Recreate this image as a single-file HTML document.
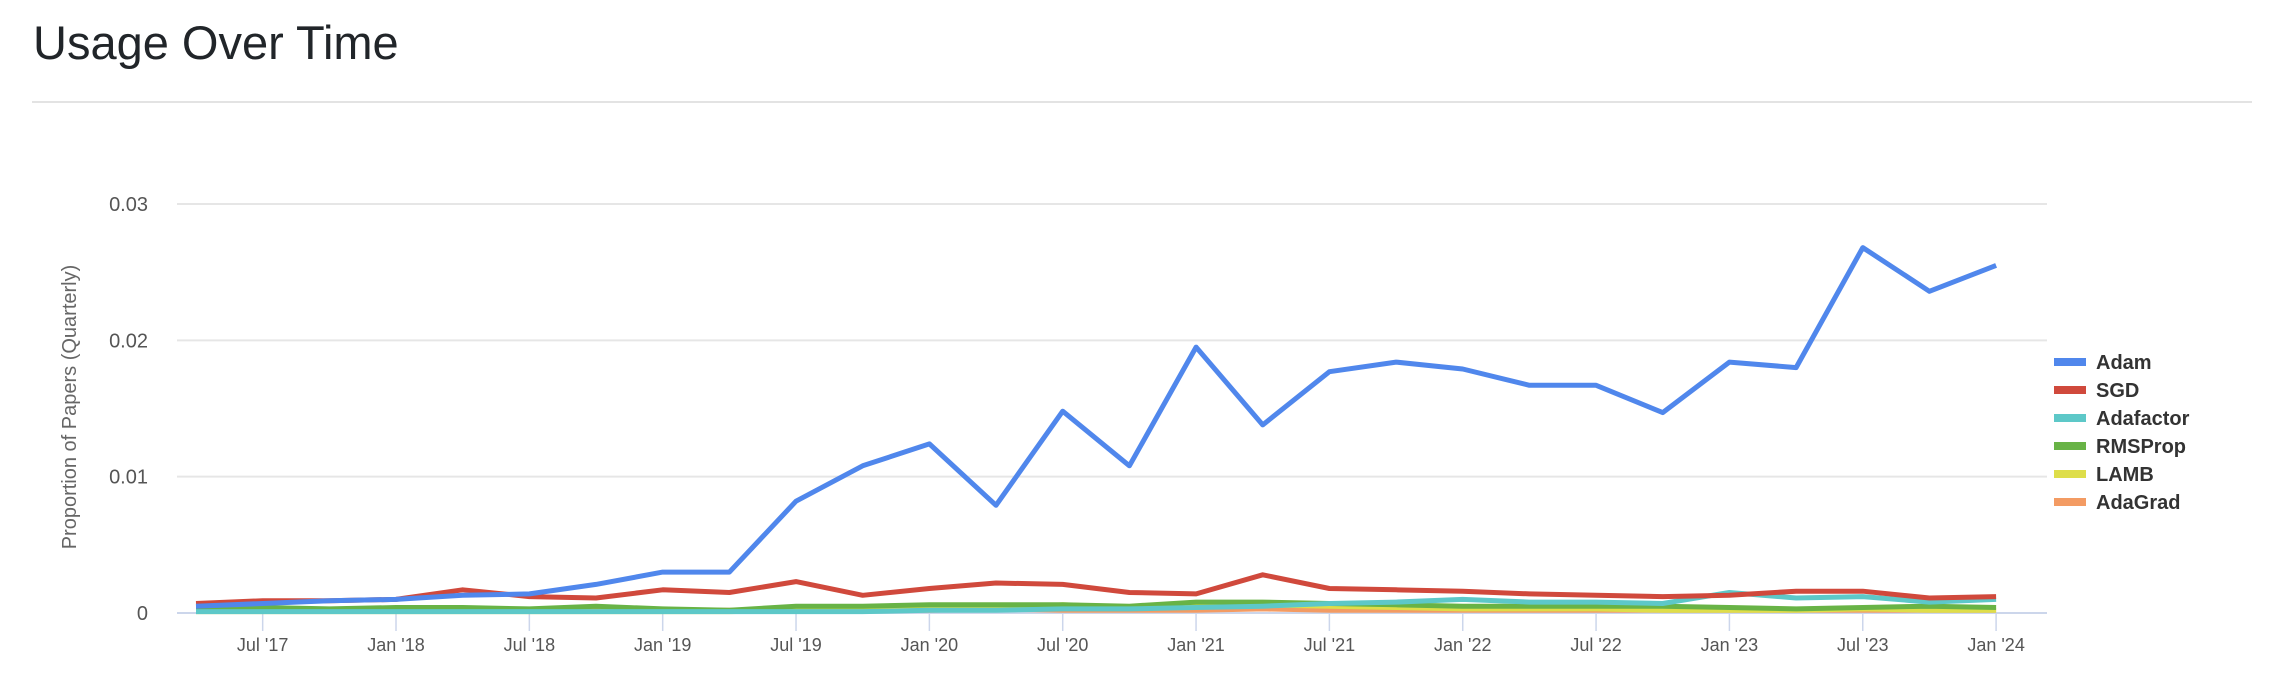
<!DOCTYPE html>
<html><head><meta charset="utf-8"><style>
html,body{margin:0;padding:0;background:#fff;width:2276px;height:692px;overflow:hidden;font-family:"Liberation Sans",sans-serif}
</style></head><body>
<svg width="2276" height="692" xmlns="http://www.w3.org/2000/svg">
<text x="33" y="59" font-size="47" fill="#212529">Usage Over Time</text>
<rect x="32" y="101" width="2220" height="2" fill="#e3e3e3"/>
<g id="grid"></g><g id="xaxis"></g><g id="series"></g><g id="legend"></g>
<text transform="translate(76,407) rotate(-90)" text-anchor="middle" font-size="20" fill="#666">Proportion of Papers (Quarterly)</text>
</svg>
<script>
const quarters = ["Apr '17","Jul '17","Oct '17","Jan '18","Apr '18","Jul '18","Oct '18","Jan '19","Apr '19","Jul '19","Oct '19","Jan '20","Apr '20","Jul '20","Oct '20","Jan '21","Apr '21","Jul '21","Oct '21","Jan '22","Apr '22","Jul '22","Oct '22","Jan '23","Apr '23","Jul '23","Oct '23","Jan '24"];
const yTicks = [0,0.01,0.02,0.03];
const yTickLabels = ["0","0.01","0.02","0.03"];
const seriesNames = ["Adam","SGD","Adafactor","RMSProp","LAMB","AdaGrad"];
const seriesColors = ["#5087ec","#d0493c","#5dc8c8","#68b346","#dede4a","#f39b63"];
const adam = [0.0005,0.0007,0.0009,0.001,0.0013,0.0014,0.0021,0.003,0.003,0.0082,0.0108,0.0124,0.0079,0.0148,0.0108,0.0195,0.0138,0.0177,0.0184,0.0179,0.0167,0.0167,0.0147,0.0184,0.018,0.0268,0.0236,0.0255];
const sgd = [0.0007,0.0009,0.0009,0.001,0.0017,0.0012,0.0011,0.0017,0.0015,0.0023,0.0013,0.0018,0.0022,0.0021,0.0015,0.0014,0.0028,0.0018,0.0017,0.0016,0.0014,0.0013,0.0012,0.0013,0.0016,0.0016,0.0011,0.0012];
const adafactor = [0.0001,0.0001,0.0001,0.0001,0.0001,0.0001,0.0001,0.0001,0.0001,0.0001,0.0001,0.0002,0.0002,0.0003,0.0003,0.0004,0.0005,0.0007,0.0008,0.001,0.0008,0.0008,0.0007,0.0015,0.0011,0.0012,0.0008,0.001];
const rmsprop = [0.0004,0.0004,0.0003,0.0004,0.0004,0.0003,0.0005,0.0003,0.0002,0.0005,0.0005,0.0006,0.0006,0.0006,0.0005,0.0008,0.0008,0.0007,0.0006,0.0005,0.0005,0.0005,0.0005,0.0004,0.0003,0.0004,0.0005,0.0004];
const lamb = [0.0001,0.0001,0.0001,0.0001,0.0001,0.0001,0.0001,0.0001,0.0001,0.0002,0.0002,0.0003,0.0003,0.0006,0.0004,0.0005,0.0006,0.0005,0.0004,0.0003,0.0003,0.0003,0.0002,0.0002,0.0002,0.0003,0.0002,0.0002];
const adagrad = [0.0002,0.0002,0.0002,0.0002,0.0002,0.0002,0.0002,0.0002,0.0002,0.0002,0.0002,0.0002,0.0003,0.0002,0.0002,0.0002,0.0003,0.0002,0.0002,0.0002,0.0002,0.0002,0.0002,0.0002,0.0002,0.0002,0.0002,0.0002];
const seriesData = [adam,sgd,adafactor,rmsprop,lamb,adagrad];
const NS="http://www.w3.org/2000/svg";
const X0=196,DX=66.67,Y0=613,YTOP=204,YMAX=0.03;
function xs(i){return X0+i*DX;}
function ys(v){return Y0-(v/YMAX)*(Y0-YTOP);}
function mk(t,a,p){const e=document.createElementNS(NS,t);for(const k in a)e.setAttribute(k,a[k]);p.appendChild(e);return e;}
const grid=document.getElementById('grid');
yTicks.forEach((t,i)=>{
  const l=mk('line',{x1:177,x2:2047,y1:ys(t),y2:ys(t),stroke:i===0?'#ccd6eb':'#e6e6e6','stroke-width':2},grid);
  
  
  const tx=mk('text',{x:148,y:ys(t)+7,'text-anchor':'end','font-size':20,fill:'#555'},grid);
  tx.textContent=yTickLabels[i];
  
  
});
const xa=document.getElementById('xaxis');
quarters.forEach((q,i)=>{
  if(q.startsWith('Jan')||q.startsWith('Jul')){
    const l=mk('line',{x1:xs(i),x2:xs(i),y1:Y0,y2:Y0+18,stroke:'#ccd6eb','stroke-width':1.5},xa);
    
    
    const t=mk('text',{x:xs(i),y:Y0+38,'text-anchor':'middle','font-size':18,fill:'#555'},xa);
    t.textContent=q;
    
    
  }
});
const sg=document.getElementById('series');
for(let s=seriesData.length-1;s>=0;s--){
  const pts=seriesData[s].map((v,i)=>xs(i).toFixed(1)+','+ys(v).toFixed(1)).join(' ');
  const p=mk('polyline',{points:pts,fill:'none',stroke:seriesColors[s],'stroke-width':5,'stroke-linejoin':'round'},sg);
  
  
}
const lg=document.getElementById('legend');
seriesNames.forEach((n,i)=>{
  const y=362+i*28;
  const g=mk('g',{},lg);
  
  
  mk('rect',{x:2054,y:y-4,width:32,height:8,fill:seriesColors[i]},g);
  const t=mk('text',{x:2096,y:y+7,'font-size':20,'font-weight':'bold',fill:'#333'},g);
  t.textContent=n;
});
</script>
</body></html>
